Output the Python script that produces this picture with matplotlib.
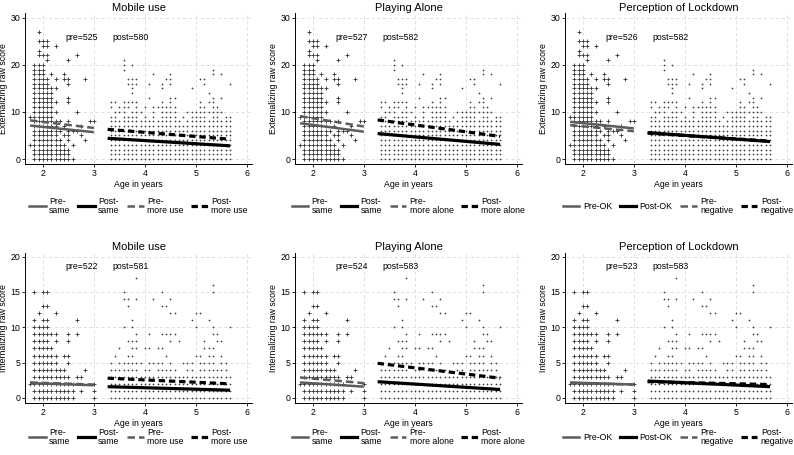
import matplotlib
matplotlib.use("Agg")
import matplotlib.pyplot as plt
from matplotlib.lines import Line2D

plt.rcParams['font.family'] = ['Liberation Sans', 'DejaVu Sans']

# ---------------- data ----------------
titles = ["Mobile use", "Playing Alone", "Perception of Lockdown"]
ylabels = ["Externalizing raw score", "Internalizing raw score"]
legend_labels = [
    ["Pre-\nsame", "Post-\nsame", "Pre-\nmore use", "Post-\nmore use"],
    ["Pre-\nsame", "Post-\nsame", "Pre-\nmore alone", "Post-\nmore alone"],
    ["Pre-OK", "Post-OK", "Pre-\nnegative", "Post-\nnegative"],
]
n_pre = [[525, 527, 526], [522, 524, 523]]
n_post = [[580, 582, 582], [581, 583, 583]]

# age columns (months)
pre_months = list(range(21, 37))
post_months = list(range(40, 69))

# Externalizing: contiguous 0..top per column (-1 = none) plus extra values
ext_pre_top = [-1, 20, 20, 20, 17, 15, 8, 4, 3, 2, -1, -1, -1, -1, -1, -1]
ext_pre_extra = [[3, 9], [], [22, 23, 25, 27], [22, 24, 25], [21, 22, 24, 25], [18],
                 [10, 12, 15, 17, 24], [6, 8], [5, 7, 17, 18],
                 [4, 5, 6, 8, 12, 13, 16, 17, 21], [0, 3, 6], [6, 10, 22], [5, 7],
                 [4, 17], [8], [8]]
ext_post_top = [9, 9, 8, 9, 9, 9, 9, 8, 9, 8, 9, 8, 9, 9, 9, 9, 8, 7, 8, 9, 9, 9, 9,
                8, 9, 9, 8, 8, 8]
ext_post_extra = [[11, 12], [10, 12], [10, 11], [10, 11, 12, 19, 20, 21], [11, 12, 16, 17],
                  [10, 12, 14, 15, 16, 17, 20], [10, 11, 12, 16, 17], [10], [11], [13, 16],
                  [10, 11, 18], [11], [10, 11, 12, 15, 16], [10, 11, 17],
                  [10, 11, 12, 13, 16, 17, 18], [10, 11, 13], [], [9], [10], [10, 15], [10],
                  [10, 11, 12, 17], [10, 11, 16, 17], [10, 12, 14], [10, 11, 12, 13, 18, 19],
                  [10, 11], [10, 13, 18], [9], [9, 16]]

# Internalizing
int_pre_top = [-1, 11, 10, 11, 11, 7, 6, 4, 4, 3, 2, -1, -1, -1, -1, 2]
int_pre_extra = [[2], [15], [12], [13, 15], [13, 15], [9], [8, 9, 12], [], [6],
                 [5, 6, 8, 9], [], [3, 9, 11], [1, 3], [4], [], []]
int_post_top = [5, 4, 5, 5, 6, 7, 5, 3, 4, 5, 3, 5, 5, 4, 5, 4, 3, 3, 4, 5, 3, 6, 5, 7,
                7, 4, 6, 5, 3]
int_post_extra = [[], [6], [7], [10, 14, 15], [8, 13, 14], [8, 10, 11], [7, 8, 9, 14, 17],
                  [5], [7], [7, 9], [5, 14], [7], [7, 9, 13, 15], [6, 9, 13],
                  [8, 9, 12, 14], [9, 12], [8], [5], [5], [11], [6, 10, 12], [12], [7, 8],
                  [11], [9, 10, 15, 16], [8, 9], [8], [], [10]]

# regression line ends (value at start/end) order: pre-a, post-a, pre-b, post-b
pre_span = [1.75, 3.0]
post_span = [3.27, 5.67]
ext_lines = [
    [[7.1, 5.7], [4.4, 2.8], [8.2, 6.6], [6.3, 4.2]],
    [[7.6, 5.8], [5.4, 3.1], [9.1, 6.9], [8.3, 4.8]],
    [[7.9, 6.5], [5.6, 3.7], [7.2, 5.9], [5.5, 3.8]],
]
int_lines = [
    [[2.1, 1.8], [1.6, 1.1], [2.2, 1.9], [2.8, 2.0]],
    [[2.2, 1.6], [2.3, 1.2], [2.9, 2.1], [4.9, 2.8]],
    [[2.2, 1.9], [2.4, 1.6], [2.1, 1.9], [2.3, 1.9]],
]

# ---------------- helpers ----------------
def expand(months, tops, extras):
    xs, ys = [], []
    for m, t, ex in zip(months, tops, extras):
        vals = list(range(0, t + 1)) + list(ex)
        for v in vals:
            xs.append(m / 12.0)
            ys.append(v)
    return xs, ys

ext_pre = expand(pre_months, ext_pre_top, ext_pre_extra)
ext_post = expand(post_months, ext_post_top, ext_post_extra)
int_pre = expand(pre_months, int_pre_top, int_pre_extra)
int_post = expand(post_months, int_post_top, int_post_extra)

W, H = 794, 455
fig = plt.figure(figsize=(W / 100, H / 100), dpi=100)

col_left = [25, 295, 565]
col_right = [252, 522, 792]
row_top = [13, 253]
row_bot = [164, 403]
leg_ys = [-0.276, -0.225]

GRAY = "#5c5c5c"
styles = [
    dict(color=GRAY, lw=1.8, ls="-"),
    dict(color="black", lw=2.3, ls="-"),
    dict(color=GRAY, lw=1.8, ls=(0, (3.0, 1.6))),
    dict(color="black", lw=2.3, ls=(0, (2.0, 1.2))),
]
FS = 6.3

for r in range(2):
    pre = ext_pre if r == 0 else int_pre
    post = ext_post if r == 0 else int_post
    lines = ext_lines if r == 0 else int_lines
    for c in range(3):
        l = col_left[c] / W
        w = (col_right[c] - col_left[c]) / W
        b = 1 - row_bot[r] / H
        h = (row_bot[r] - row_top[r]) / H
        ax = fig.add_axes([l, b, w, h])
        ax.scatter(pre[0], pre[1], marker="+", s=9, linewidths=0.6, color="#333333", zorder=2)
        ax.scatter(post[0], post[1], marker="+", s=4, linewidths=0.5, color="#444444", zorder=2)
        for k in range(4):
            span = pre_span if k in (0, 2) else post_span
            ax.plot(span, lines[c][k], zorder=3, solid_capstyle="butt",
                    dash_capstyle="butt", **styles[k])
        ax.set_xlim(1.65, 6.1)
        if r == 0:
            ax.set_ylim(-1.06, 31.0)
            ax.set_yticks([0, 10, 20, 30])
            ytxt = 25.7
        else:
            ax.set_ylim(-0.71, 20.5)
            ax.set_yticks([0, 5, 10, 15, 20])
            ytxt = 18.6
        ax.set_xticks([2, 3, 4, 5, 6])
        ax.grid(True, ls=(0, (4, 3)), color="#dcdcdc", lw=0.6, zorder=0)
        for s in ("top", "right"):
            ax.spines[s].set_visible(False)
        for s in ("left", "bottom"):
            ax.spines[s].set_linewidth(0.7)
        ax.tick_params(labelsize=FS, length=2.2, width=0.6, pad=1.2)
        ax.set_xlabel("Age in years", fontsize=FS, labelpad=1.5)
        ax.set_ylabel(ylabels[r], fontsize=FS, labelpad=1.5)
        ax.set_title(titles[c], fontsize=8.0, pad=1.8)
        ax.text(2.45, ytxt, f"pre={n_pre[r][c]}", fontsize=FS, va="center", ha="left")
        ax.text(3.37, ytxt, f"post={n_post[r][c]}", fontsize=FS, va="center", ha="left")
        hh = [Line2D([0], [0], **styles[k]) for k in range(4)]
        leg = ax.legend(hh, legend_labels[c], ncol=4, loc="center",
                        bbox_to_anchor=(0.5, leg_ys[r]), frameon=False, fontsize=FS,
                        handlelength=1.85, handletextpad=0.4, columnspacing=0.9,
                        labelspacing=0.2, borderpad=0.1)
        for t in leg.get_texts():
            t.set_linespacing(1.0)

fig.savefig("out.png", dpi=100)
